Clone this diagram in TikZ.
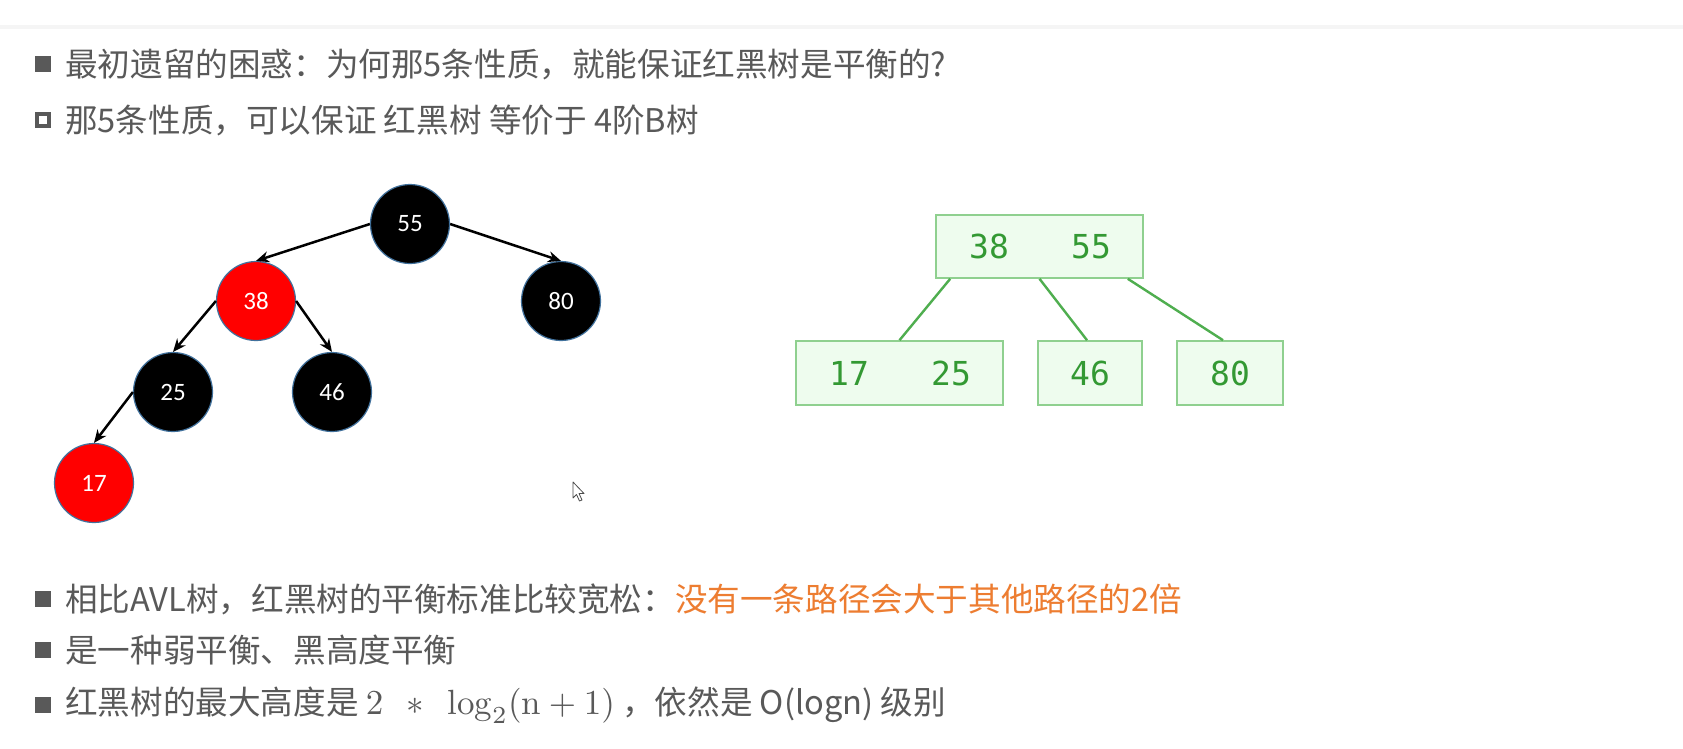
\documentclass[tikz,border=0pt]{standalone}
\usepackage{graphicx}
\usepackage{fontspec}
\usetikzlibrary{arrows.meta,shapes.geometric}
\newfontfamily\cjk{Noto Sans CJK SC}
\newfontfamily\calfont{Carlito}
\newfontfamily\monofont{DejaVu Sans Mono}
\definecolor{txtgray}{HTML}{595959}
\definecolor{orangetxt}{HTML}{ED7D31}
\definecolor{rbred}{HTML}{FF0000}
\definecolor{rbedge}{HTML}{41719C}
\definecolor{bgreen}{HTML}{339933}
\definecolor{bline}{HTML}{4FAE4F}
\definecolor{bborder}{HTML}{8FD08F}
\definecolor{bfill}{HTML}{EEFCEE}
\newcommand{\bigmath}[1]{\scalebox{3.5}{\fontsize{10pt}{12pt}\selectfont$#1$}}
\tikzset{
  line/.style={anchor=west, text=txtgray, font=\cjk\fontsize{32.6pt}{38pt}\selectfont, inner sep=0pt},
  rbnode/.style={circle, draw=rbedge, line width=1.2pt, minimum size=79pt, inner sep=0pt,
                 text=white, font=\calfont\fontsize{25pt}{28pt}\selectfont},
  blacknode/.style={rbnode, fill=black},
  rednode/.style={rbnode, fill=rbred},
  rbarrow/.style={line width=2.5pt, -{Stealth[length=13pt,width=11pt]}},
  bbox/.style={draw=bborder, fill=bfill, line width=1.6pt, minimum height=63pt, inner sep=0pt},
  bkey/.style={text=bgreen, font=\monofont\fontsize{33pt}{36pt}\selectfont, inner sep=0pt},
  blink/.style={draw=bline, line width=2.4pt},
  solidbullet/.style={fill=txtgray, minimum size=16pt, inner sep=0pt},
  hollowbullet/.style={draw=txtgray, line width=3.5pt, minimum size=12pt, inner sep=0pt},
}
\begin{document}
\begin{tikzpicture}[x=1pt,y=-1pt]
\useasboundingbox (0,0) rectangle (1683,748);
\fill[white] (0,0) rectangle (1683,748);
\fill[black!4] (0,25) rectangle (1683,29);

% text lines
\node[solidbullet] (b1) at (43,64) {};
\node[line] (t1) at (65,64) {最初遗留的困惑：为何那5条性质，就能保证红黑树是平衡的?};
\node[hollowbullet] (b2) at (43,120) {};
\node[line] (t2) at (65,120) {那5条性质，可以保证 红黑树 等价于 4阶B树};

\node[solidbullet] (b3) at (43,599) {};
\node[line] (t3) at (65,599) {相比AVL树，红黑树的平衡标准比较宽松：\textcolor{orangetxt}{没有一条路径会大于其他路径的2倍}};
\node[solidbullet] (b4) at (43,650) {};
\node[line] (t4) at (65,650) {是一种弱平衡、黑高度平衡};
\node[solidbullet] (b5) at (43,705) {};
\node[line] (t5) at (65,705) {红黑树的最大高度是 \bigmath{2\;\,\ast\;\,\log_2(\mathrm{n}+1)} ，依然是 O(logn) 级别};

% red-black tree
\node[blacknode] (n55) at (410,224) {55};
\node[rednode]   (n38) at (256,301) {38};
\node[blacknode] (n80) at (561,301) {80};
\node[blacknode] (n25) at (173,392) {25};
\node[blacknode] (n46) at (332,392) {46};
\node[rednode]   (n17) at (94,483) {17};
\draw[rbarrow] (n55.west) -- (n38.north);
\draw[rbarrow] (n55.east) -- (n80.north);
\draw[rbarrow] (n38.west) -- (n25.north);
\draw[rbarrow] (n38.east) -- (n46.north);
\draw[rbarrow] (n25.west) -- (n17.north);

% B-tree
\node[bbox, minimum width=207pt] (bt) at (1039.5,246.5) {};
\node[bkey] (k38) at (989,246.5) {38};
\node[bkey] (k55) at (1091,246.5) {55};
\node[bbox, minimum width=207pt, minimum height=64pt] (bl) at (899.5,373) {};
\node[bkey] (k17) at (849,373) {17};
\node[bkey] (k25) at (951,373) {25};
\node[bbox, minimum width=104pt, minimum height=64pt] (bm) at (1090,373) {};
\node[bkey] (k46) at (1090,373) {46};
\node[bbox, minimum width=106pt, minimum height=64pt] (br) at (1230,373) {};
\node[bkey] (k80) at (1230,373) {80};
\draw[blink] ([xshift=15pt]bt.south west) -- (bl.north);
\draw[blink] (bt.south) -- ([xshift=-3pt]bm.north);
\draw[blink] ([xshift=-16pt]bt.south east) -- ([xshift=-7pt]br.north);

% mouse cursor
\coordinate (cur) at (573,482);
\draw[black!70, fill=white, line width=0.8pt, line join=round]
  (cur) -- ++(0,16) -- ++(3.5,-3.5) -- ++(3,6.5) -- ++(2.5,-1) -- ++(-3,-6.5) -- ++(5,0) -- cycle;
\end{tikzpicture}
\end{document}
